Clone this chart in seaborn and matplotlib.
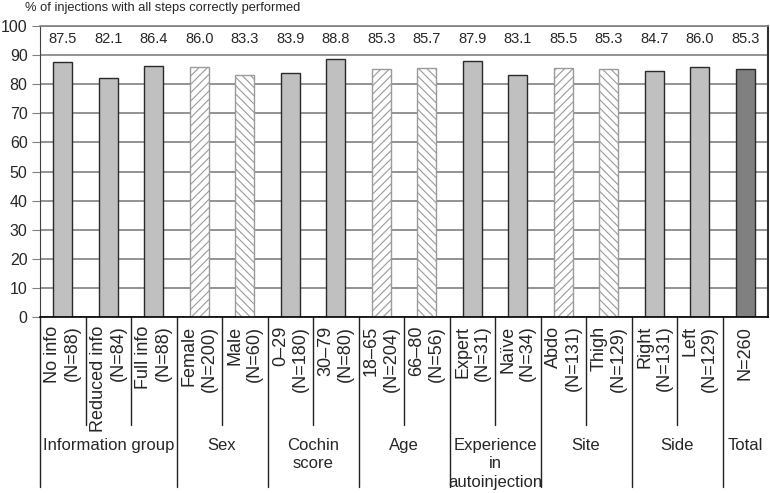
import matplotlib.pyplot as plt
import numpy as np
import pandas as pd
import seaborn as sns

sns.set_style('white')
plt.rcParams['font.family'] = ['Liberation Sans', 'DejaVu Sans']
plt.rcParams['hatch.linewidth'] = 0.8

# Chart data
bar_labels = ['No info\n(N=88)', 'Reduced info\n(N=84)', 'Full info\n(N=88)',
              'Female\n(N=200)', 'Male\n(N=60)',
              '0–29\n(N=180)', '30–79\n(N=80)',
              '18–65\n(N=204)', '66–80\n(N=56)',
              'Expert\n(N=31)', 'Naïve\n(N=34)',
              'Abdo\n(N=131)', 'Thigh\n(N=129)',
              'Right\n(N=131)', 'Left\n(N=129)',
              'N=260']
values = [87.5, 82.1, 86.4, 86.0, 83.3, 83.9, 88.8, 85.3, 85.7,
          87.9, 83.1, 85.5, 85.3, 84.7, 86.0, 85.3]
group_names = ['Information group', 'Sex', 'Cochin\nscore', 'Age',
               'Experience\nin\nautoinjection', 'Site', 'Side', 'Total']
group_sizes = [3, 2, 2, 2, 2, 2, 2, 1]

# Bar styles
fills = ['#c0c0c0'] * 3 + ['white'] * 2 + ['#c0c0c0'] * 2 + ['white'] * 2 + \
        ['#c0c0c0'] * 2 + ['white'] * 2 + ['#c0c0c0'] * 2 + ['#808080']
hatches = [None] * 3 + ['////', '\\\\\\\\'] + [None] * 2 + ['////', '\\\\\\\\'] + \
          [None] * 2 + ['////', '\\\\\\\\'] + [None] * 3

df = pd.DataFrame({'label': bar_labels, 'value': values})

fig = plt.figure(figsize=(7.7, 4.93), dpi=100)
ax = fig.add_axes([0.052, 0.357, 0.9455, 0.590])

sns.barplot(data=df, x='label', y='value', hue='label', palette=fills,
            legend=False, width=0.42, saturation=1, linewidth=1,
            edgecolor='#2a2a2a', ax=ax)

patches = sorted(ax.patches, key=lambda p: p.get_x())
for p, h in zip(patches, hatches):
    if h:
        p.set_facecolor('white')
        p.set_hatch(h)
        p.set_edgecolor('#9a9a9a')

ax.set_xlim(-0.5, len(values) - 0.5)
ax.set_ylim(0, 100)
ax.set_yticks(range(0, 101, 10))
ax.set_xticks([])
ax.set_xlabel('')
ax.set_ylabel('')
ax.yaxis.grid(True, color='#808080', linewidth=1.2)
ax.set_axisbelow(True)
ax.tick_params(axis='y', left=True, length=6, color='#808080',
               labelsize=11.5, pad=3)
ax.spines['top'].set_color('#808080')
ax.spines['top'].set_linewidth(1.2)
ax.spines['left'].set_color('#404040')
ax.spines['right'].set_color('#303030')
ax.spines['right'].set_linewidth(1.5)
ax.spines['bottom'].set_color('black')
ax.spines['bottom'].set_linewidth(1.2)

# Value labels in a row near the top
for i, v in enumerate(values):
    ax.text(i, 95.5, f'{v:.1f}', ha='center', va='center', fontsize=10.5)

# Category labels and group separators under the axis
trans = ax.get_xaxis_transform()
for i, lab in enumerate(bar_labels):
    ax.text(i, -0.03, lab, rotation=90, ha='center', va='top',
            multialignment='right', linespacing=1.2, fontsize=13,
            transform=trans, clip_on=False)

pos = 0
for name, size in zip(group_names, group_sizes):
    start = pos - 0.5
    ax.plot([start, start], [0, -0.584], transform=trans, clip_on=False,
            color='#222222', linewidth=1)
    for k in range(1, size):
        ax.plot([start + k, start + k], [0, -0.371], transform=trans,
                clip_on=False, color='#222222', linewidth=1)
    ax.text(start + size / 2, -0.415, name, ha='center', va='top',
            fontsize=12, linespacing=1.3, transform=trans, clip_on=False)
    pos += size

fig.text(25 / 770, 1 - 8 / 493, '% of injections with all steps correctly performed',
         ha='left', va='center', fontsize=9.3)

fig.savefig('out.png', dpi=100)
plt.close()
